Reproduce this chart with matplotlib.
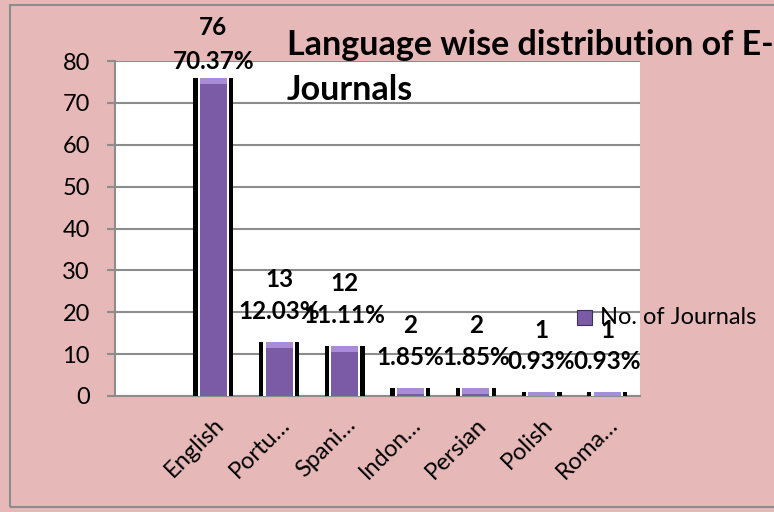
import matplotlib
matplotlib.use('Agg')
import matplotlib.pyplot as plt
from matplotlib.patches import Rectangle

plt.rcParams['font.family'] = ['Lato', 'DejaVu Sans']

# data
languages = ["", "English", "Portu…", "Spani…", "Indon…", "Persian", "Polish", "Roma…"]
journals = [0, 76, 13, 12, 2, 2, 1, 1]
percents = ["", "70.37%", "12.03%", "11.11%", "1.85%", "1.85%", "0.93%", "0.93%"]

PINK = "#E6B8B7"
PURPLE = "#7B5BA6"
LIGHT = "#A98BD6"
GRID = "#8C8C8C"

fig = plt.figure(figsize=(7.74, 5.12), dpi=100, facecolor=PINK)
fig.patches.append(Rectangle((10 / 774, 5 / 512), 1.0, 502 / 512, transform=fig.transFigure,
                             fill=False, edgecolor=GRID, linewidth=1.5))
ax = fig.add_axes([115 / 774, 1 - 396 / 512, 525 / 774, 335 / 512])
ax.set_facecolor("white")

x = list(range(len(languages)))
xs, vs = x[1:], journals[1:]
# black outline, white gap, purple body, lighter bevel at top
ax.bar(xs, vs, width=0.61, color="black", zorder=3)
ax.bar(xs, vs, width=0.48, color="white", zorder=3)
ax.bar(xs, vs, width=0.41, color=PURPLE, zorder=4)
bevel = [min(v, 1.6) for v in vs]
ax.bar(xs, bevel, bottom=[v - b for v, b in zip(vs, bevel)], width=0.41, color=LIGHT, zorder=4)

ax.set_xlim(-0.5, len(languages) - 0.5)
ax.set_ylim(0, 80)
ax.set_yticks(range(0, 81, 10))
ax.yaxis.grid(True, color=GRID, linewidth=1.5, zorder=0)
ax.tick_params(axis='y', labelsize=17, length=6, width=1.5, color=GRID, pad=12)
ax.tick_params(axis='x', length=0, pad=13)
ax.set_xticks(xs)
ax.set_xticklabels(languages[1:], rotation=45, ha='right', va='top',
                   rotation_mode='anchor', fontsize=17)
for s in ["top", "right"]:
    ax.spines[s].set_visible(False)
for s in ["left", "bottom"]:
    ax.spines[s].set_color(GRID)
    ax.spines[s].set_linewidth(1.5)

for i in xs:
    v = journals[i]
    off_pct, off_val = (12, 36) if i == 1 else (21.5, 44.5)
    ax.annotate(percents[i], (i, v), xytext=(0, off_pct), textcoords="offset points",
                ha='center', va='center', fontsize=17.5, fontweight='bold', zorder=6,
                annotation_clip=False)
    ax.annotate(str(v), (i, v), xytext=(0, off_val), textcoords="offset points",
                ha='center', va='center', fontsize=17.5, fontweight='bold', zorder=6,
                annotation_clip=False)

fig.text(287 / 774, 1 - 55 / 512, "Language wise distribution of E-", fontsize=24.5,
         fontweight='bold', ha='left', va='baseline')
fig.text(287 / 774, 1 - 100 / 512, "Journals", fontsize=24.5,
         fontweight='bold', ha='left', va='baseline')

# legend
fig.patches.append(Rectangle((577 / 774, 1 - 325 / 512), 15 / 774, 15 / 512,
                             transform=fig.transFigure, facecolor=PURPLE,
                             edgecolor="#3F2D5A", linewidth=0.8, zorder=6))
fig.text(600 / 774, 1 - 318 / 512, "No. of Journals", fontsize=17, ha='left', va='center')

fig.savefig("out.png", dpi=100, facecolor=PINK)
